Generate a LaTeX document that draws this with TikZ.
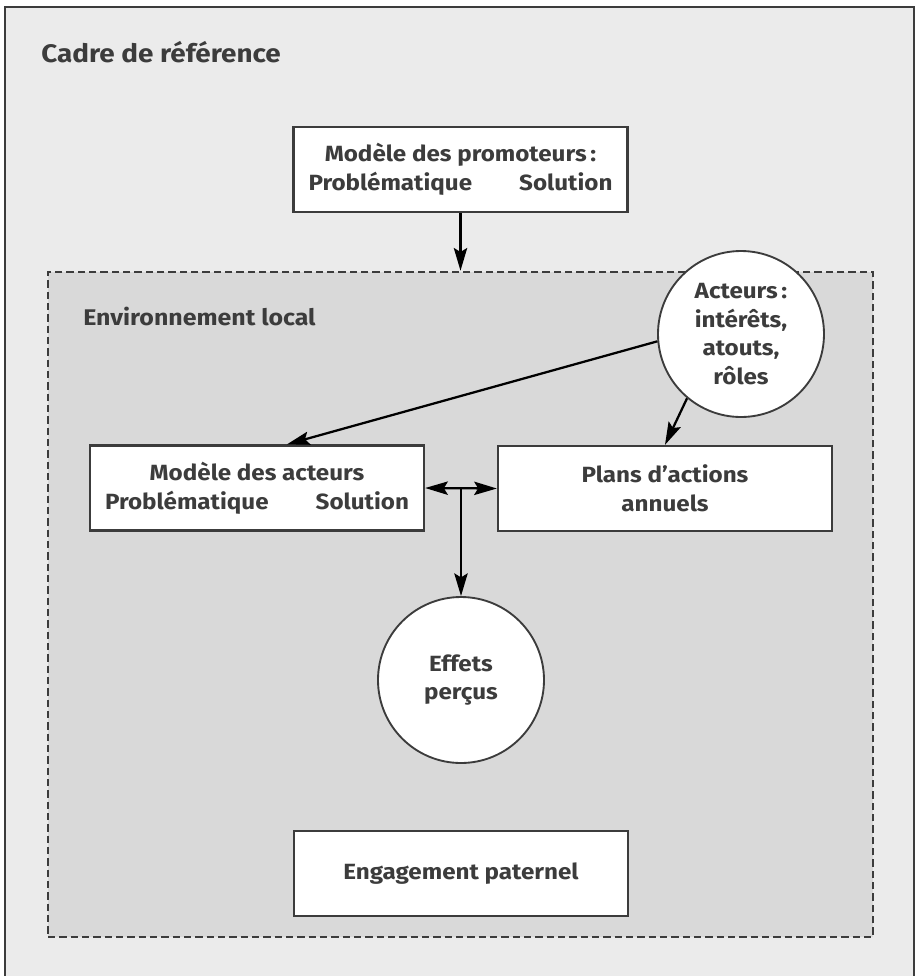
\documentclass[tikz,border=0pt]{standalone}
\usepackage{fontspec}
\setmainfont{Fira Sans}[FakeStretch=1.1]
\usetikzlibrary{arrows.meta}
\definecolor{outerbg}{HTML}{EBEBEB}
\definecolor{innerbg}{HTML}{D9D9D9}
\definecolor{edge}{HTML}{3C3C3C}
\definecolor{txtc}{HTML}{3C3C3C}
\newcommand{\txtfont}{\fontsize{16.5}{21.5}\selectfont\bfseries}
\newcommand{\titlefont}{\fontsize{19}{23}\selectfont\bfseries}
\newcommand{\envfont}{\fontsize{17}{21}\selectfont\bfseries}
\begin{document}
\begin{tikzpicture}[x=0.75pt,y=-0.75pt,
  box/.style={draw=edge, fill=white, line width=1.75pt, minimum width=250.5pt, minimum height=63.75pt, inner sep=0pt, align=center, font=\txtfont, text=txtc},
  circ/.style={circle, draw=edge, fill=white, line width=1.4pt, minimum size=124.5pt, inner sep=0pt, align=center, font=\txtfont, text=txtc},
  envbox/.style={draw=edge, fill=innerbg, line width=2pt, dash pattern=on 5.5pt off 3pt, minimum width=618.75pt, minimum height=498.75pt, inner sep=0pt},
  lbl/.style={anchor=base west, inner sep=0pt, text=txtc},
  arr/.style={-{Stealth[length=17pt,width=10pt,inset=3pt]}, line width=1.7pt, draw=black},
  arrtwo/.style={{Stealth[length=17pt,width=10pt,inset=3pt]}-{Stealth[length=17pt,width=10pt,inset=3pt]}, line width=1.7pt, draw=black}]
\useasboundingbox (0,0) rectangle (915,976);
\clip (0,0) rectangle (915,976);
\draw[fill=outerbg, draw=edge, line width=1.75pt] (5,7) rectangle (914,1000);
\node[lbl, font=\titlefont] (title) at (41,62) {Cadre de référence};
\node[box] (promo) at (460.5,169.5) {Modèle des promoteurs\,:\\\makebox[228pt]{Problématique\hfill Solution}};
\node[envbox] (env) at (460.5,604.5) {};
\node[lbl, font=\envfont] (envlabel) at (83,325) {Environnement local};
\node[box] (act) at (257,488) {Modèle des acteurs\\\makebox[228pt]{Problématique\hfill Solution}};
\node[box] (plans) at (665,488.5) {Plans d’actions\\annuels};
\node[circ] (acteurs) at (741,334) {Acteurs\,:\\intérêts,\\atouts,\\rôles};
\node[circ] (effets) at (461,680) {Effets\\perçus};
\node[box] (engage) at (461,873.5) {Engagement paternel};
\draw[arr] (promo.south) -- (promo.south |- env.north);
\draw[arr] (acteurs.185) -- ([xshift=22.5pt]act.north);
\draw[arr] (acteurs.230) -- (plans.north);
\draw[arrtwo] (act.east) -- (plans.west);
\draw[arr] (effets.north |- act.east) -- (effets.north);
\end{tikzpicture}
\end{document}
